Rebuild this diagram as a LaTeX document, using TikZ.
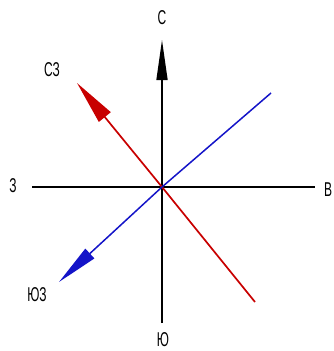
\documentclass[tikz,border=0pt]{standalone}
\usepackage{fontspec}
\setmainfont{Liberation Sans}
\usetikzlibrary{arrows.meta}
\begin{document}
\begin{tikzpicture}[x=1pt,y=-1pt,
  axis/.style={line width=1.5pt,black},
  lbl/.style={font=\fontsize{20}{20}\selectfont,inner sep=0pt,xscale=0.6,yscale=1},
  redline/.style={line width=1.7pt,color={rgb,255:red,200;green,0;blue,0}},
  blueline/.style={line width=1.5pt,color={rgb,255:red,20;green,20;blue,200}}]
\useasboundingbox (0,0) rectangle (333,351);
\coordinate (O) at (162,187);
\coordinate (N) at (162,40);
\coordinate (S) at (162,323);
\coordinate (W) at (32,187);
\coordinate (E) at (315,187);
\coordinate (NW) at (77,83);
\coordinate (SE) at (255,302);
\coordinate (NE) at (271,93);
\coordinate (SW) at (59,282);
\draw[axis] (W) -- (E);
\draw[axis] (S) -- (O);
\draw[axis,-{Triangle[length=40pt,width=11pt]}] (O) -- (N);
\draw[redline] (SE) -- (O);
\draw[redline,-{Triangle[length=44pt,width=15pt]}] (O) -- (NW);
\draw[blueline] (NE) -- (O);
\draw[blueline,-{Triangle[length=42pt,width=13pt]}] (O) -- (SW);
\node[lbl] (lN) at (162,18) {С};
\node[lbl] (lNW) at (52,70) {СЗ};
\node[lbl] (lW) at (13,186) {З};
\node[lbl] (lE) at (328,190) {В};
\node[lbl] (lSW) at (37,295) {ЮЗ};
\node[lbl] (lS) at (163,340) {Ю};
\end{tikzpicture}
\end{document}
